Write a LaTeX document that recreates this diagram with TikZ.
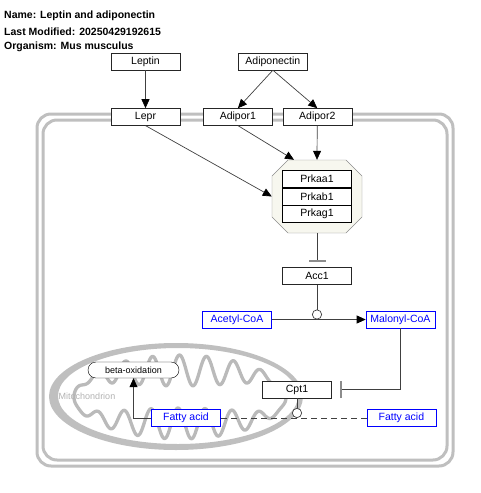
\documentclass[tikz,border=0pt]{standalone}
\usepackage{fontspec}
\setmainfont{Liberation Sans}
\usetikzlibrary{positioning, shapes.misc, arrows.meta}
\definecolor{complexfill}{HTML}{F7F7EF}

\begin{document}
\begin{tikzpicture}[x=1pt, y=-1pt,
    gene/.style={draw=black!85, fill=white, minimum width=69pt, minimum height=17pt, inner sep=0pt, font=\fontsize{10.5}{12}\selectfont},
    metab/.style={gene, draw=blue, text=blue},
    title/.style={anchor=west, inner sep=0pt, font=\fontsize{10.5}{12}\selectfont\bfseries},
    conn/.style={draw=black!75, line width=0.7pt},
    act/.style={conn, -{Triangle[length=9pt, width=8pt, color=black]}},
    inhib/.style={conn, -{Bar[width=17pt, line width=2pt, color=black!45]}},
    cat/.style={conn, -{Circle[length=10pt, fill=white]}},
    wall/.style={draw=black!25, line width=3pt, rounded corners=14pt},
    mito/.style={draw=black!27, line width=3.3pt}]
    \useasboundingbox (0,0) rectangle (480,493);

    % pathway info
    \node[title] (name) at (4,16) {Name: Leptin and adiponectin};
    \node[title] (modified) at (4,31.5) {Last Modified: 20250429192615};
    \node[title] (organism) at (4,47) {Organism: Mus musculus};

    % cell and mitochondrion
    \draw[wall] (37,114) rectangle (453,466);
    \draw[wall] (43,120) rectangle (447,460);
    \fill[black!25, even odd rule] (176,396.5) ellipse [x radius=127, y radius=53.5]
        (178,396) ellipse [x radius=120, y radius=48];
    \draw[mito, line join=round] plot[domain=0:180, samples=361]
        ({180+106*cos(\x)}, {397+sin(\x)*(42-31*abs(sin(\x))*(1-cos((-38.5+106*cos(\x))*13.3333))/2)})
        -- plot[domain=180:360, samples=361]
        ({180+106*cos(\x)}, {397+sin(\x)*(42-31*abs(sin(\x))*(1-cos((0.5+106*cos(\x))*13.3333))/2)})
        -- cycle;
    \node[text=black!30, font=\fontsize{9}{10}\selectfont] (mitolabel) at (87,396) {Mitochondrion};

    % ligands and receptors
    \node[gene] (leptin) at (145.5,61.5) {Leptin};
    \node[gene, right=58pt of leptin] (adiponectin) {Adiponectin};
    \node[gene, below=38pt of leptin] (lepr) {Lepr};
    \node[gene, right=23pt of lepr] (adipor1) {Adipor1};
    \node[gene, right=10pt of adipor1] (adipor2) {Adipor2};

    % AMPK complex
    \node[minimum width=90pt, minimum height=73pt, inner sep=0pt] (ampk) at (317,196.5) {};
    \draw[draw=black!45, fill=complexfill] (288,160) -- (346,160) -- (362,176) -- (362,217)
        -- (346,233) -- (288,233) -- (272,217) -- (272,176) -- cycle;
    \node[gene, draw=black] (prkab1) at (ampk) {Prkab1};
    \node[gene, draw=black, above=0pt of prkab1] (prkaa1) {Prkaa1};
    \node[gene, draw=black, below=0pt of prkab1] (prkag1) {Prkag1};

    % fatty acid metabolism
    \node[gene, below=34pt of ampk] (acc1) {Acc1};
    \node[metab] (acetyl) at (237,319.5) {Acetyl-CoA};
    \node[metab, right=94pt of acetyl] (malonyl) {Malonyl-CoA};
    \node[gene] (cpt1) at (297,389.5) {Cpt1};
    \node[metab] (fattyl) at (186,418) {Fatty acid};
    \node[metab, right=146pt of fattyl] (fattyr) {Fatty acid};
    \node[draw=black, fill=white, rounded rectangle, minimum width=91pt, minimum height=16pt,
        inner sep=0pt, font=\fontsize{9}{10}\selectfont] (betaox) at (133.5,370) {beta-oxidation};

    \draw[act] (leptin) -- (lepr);
    \draw[act] (adiponectin.south) -- (adipor1.north);
    \draw[act] (adiponectin.south) -- (adipor2.north);
    \coordinate[left=23pt of ampk.north] (ampkin);
    \draw[act] (lepr.south) -- (ampk.west);
    \draw[act] (adipor1.south) -- (ampkin);
    \draw[act] (adipor2) -- (ampk.north);
    \draw[inhib, shorten >=5pt] (ampk.south) -- (acc1.north);
    \coordinate (acccat) at (acc1.south |- acetyl.east);
    \draw[act] (acetyl) -- (malonyl);
    \draw[cat] (acc1) -- (acccat);
    \draw[inhib, shorten >=8pt] (malonyl.south) |- (cpt1.east);
    \coordinate (cptcat) at (cpt1.south |- fattyl.east);
    \draw[conn, dash pattern=on 6pt off 4pt] (fattyr) -- (fattyl);
    \draw[cat] (cpt1) -- (cptcat);
    \draw[act] (fattyl.west) -| (betaox.south);
\end{tikzpicture}
\end{document}
